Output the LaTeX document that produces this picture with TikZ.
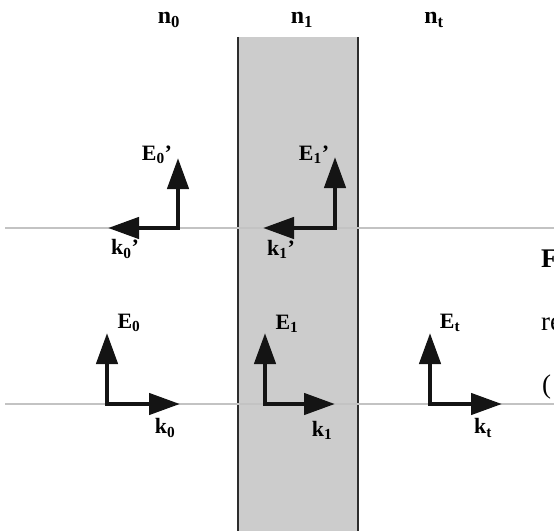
\documentclass[tikz,border=0pt]{standalone}
\usepackage{fontspec}
\setmainfont{Liberation Serif}
\usepackage{tikz}
\usetikzlibrary{arrows.meta}
\definecolor{cSlab}{RGB}{204,204,204}
\definecolor{cEdge}{RGB}{45,45,45}
\definecolor{cAxis}{RGB}{195,195,195}
\definecolor{cVec}{RGB}{20,20,20}
\tikzset{
  >={Triangle[length=31bp,width=21bp]},
  vec/.style={<->,line width=4.5bp,cVec}, % E and k pair, one path
  axis/.style={cAxis,line width=1.2bp},
  slab/.style={fill=cSlab,draw=none},
  face/.style={cEdge,line width=2.2bp},
  lbl/.style={inner sep=0pt,font=\fontsize{22}{22}\selectfont\bfseries},
  idx/.style={inner sep=0pt,font=\fontsize{24}{24}\selectfont\bfseries},
  captxt/.style={inner sep=0pt,anchor=base west,font=\fontsize{27}{27}\selectfont},
}

\begin{document}
\begin{tikzpicture}[x=1bp,y=-1bp]
  \useasboundingbox (0,0) rectangle (554,531);
  \clip (0,0) rectangle (554,531);
  % layer n1
  \fill[slab] (238,37) rectangle (358,531);
  \draw[face] (238,37) -- (238,531);
  \draw[face] (358,37) -- (358,531);
  % index labels
  \node[idx] (n0) at (169,20) {n\textsubscript{0}};
  \node[idx] (n1) at (302,20) {n\textsubscript{1}};
  \node[idx] (nt) at (434,20) {n\textsubscript{t}};
  % reflected waves
  \draw[axis] (5,228) -- (554,228);
  \coordinate (E0rt) at (178,158); \coordinate (k0rt) at (108,228);
  \coordinate (E1rt) at (335,157); \coordinate (k1rt) at (263,228);
  \draw[vec] (E0rt) |- (k0rt);
  \draw[vec] (E1rt) |- (k1rt);
  \node[lbl] (E0r) at (157,155) {E\textsubscript{0}’};
  \node[lbl] (k0r) at (125,249) {k\textsubscript{0}’};
  \node[lbl] (E1r) at (314,155) {E\textsubscript{1}’};
  \node[lbl] (k1r) at (281,249) {k\textsubscript{1}’};
  % incident and transmitted waves
  \draw[axis] (5,404) -- (554,404);
  \coordinate (E0t) at (107,333); \coordinate (k0t) at (180,404);
  \coordinate (E1t) at (265,333); \coordinate (k1t) at (335,404);
  \coordinate (Ett) at (430,333); \coordinate (ktt) at (502,404);
  \draw[vec] (E0t) |- (k0t);
  \draw[vec] (E1t) |- (k1t);
  \draw[vec] (Ett) |- (ktt);
  \node[lbl] (E0) at (129,323) {E\textsubscript{0}};
  \node[lbl] (k0) at (165,428) {k\textsubscript{0}};
  \node[lbl] (E1) at (287,324) {E\textsubscript{1}};
  \node[lbl] (k1) at (322,430) {k\textsubscript{1}};
  \node[lbl] (Et) at (450,323) {E\textsubscript{t}};
  \node[lbl] (kt) at (483,428) {k\textsubscript{t}};
  % caption, cut at the edge
  \node[captxt,font=\fontsize{27}{27}\selectfont\bfseries] (capF) at (541,267) {F};
  \node[captxt] (capr) at (541,330) {re};
  \node[captxt] (capp) at (542,393) {(};
\end{tikzpicture}
\end{document}
